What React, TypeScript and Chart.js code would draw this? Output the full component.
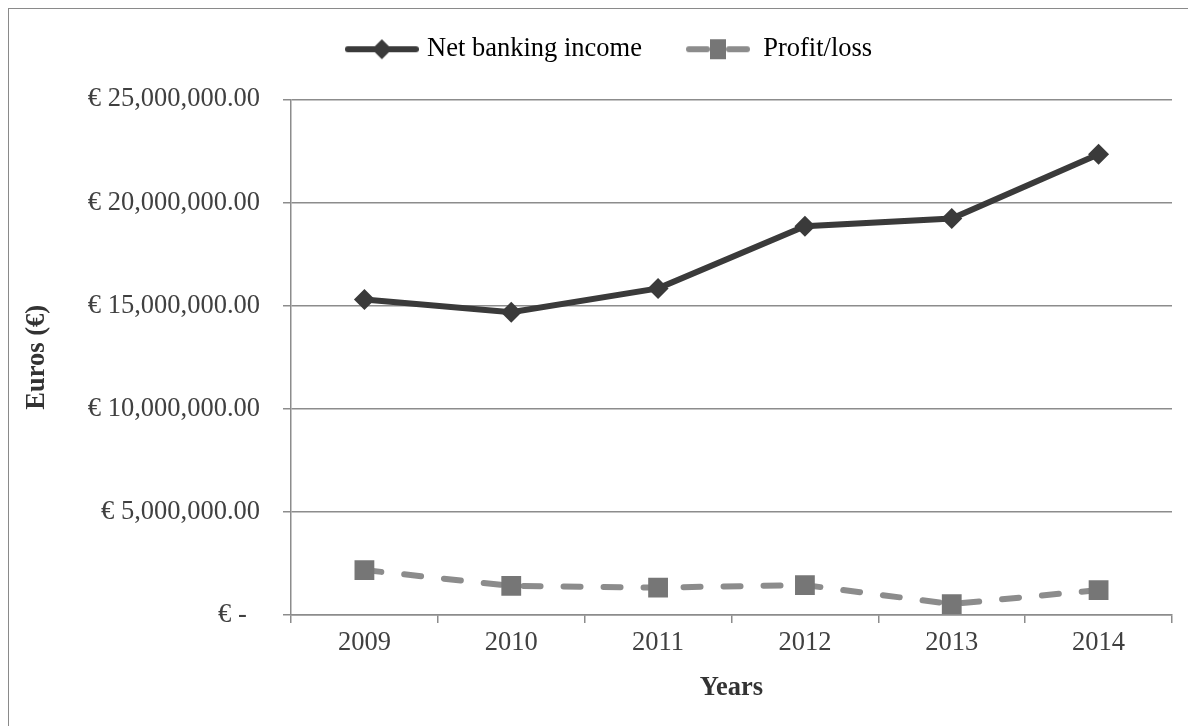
import React, { useEffect, useRef } from 'react';
import { Chart, registerables } from 'chart.js';

Chart.register(...registerables);

// ---- data ----
const years = ['2009', '2010', '2011', '2012', '2013', '2014'];
const netBankingIncome = [15300000, 14680000, 15840000, 18850000, 19230000, 22340000];
const profitLoss = [2180000, 1410000, 1330000, 1450000, 530000, 1210000];
const seriesNames = ['Net banking income', 'Profit/loss'];
const yMin = 0;
const yMax = 25000000;
const yStep = 5000000;
const xTitle = 'Years';
const yTitle = 'Euros (€)';

const FONT = '"Liberation Serif", "Times New Roman", serif';
const FS = 26.5;
const DARK = '#3a3a3a';
const DASH = '#8c8c8c';
const SQUARE = '#767676';
const GRID = '#8c8c8c';

function makeLegendImage(kind: number): HTMLCanvasElement {
  const c = document.createElement('canvas');
  const w = kind === 0 ? 74 : 66;
  const h = 26;
  c.width = w;
  c.height = h;
  const ctx = c.getContext('2d')!;
  const cy = h / 2;
  ctx.lineCap = 'round';
  if (kind === 0) {
    ctx.lineWidth = 6;
    ctx.strokeStyle = DARK;
    ctx.beginPath();
    ctx.moveTo(3, cy);
    ctx.lineTo(w - 3, cy);
    ctx.stroke();
    const cx = w / 2;
    const r = 10;
    ctx.fillStyle = DARK;
    ctx.beginPath();
    ctx.moveTo(cx - r, cy);
    ctx.lineTo(cx, cy - r);
    ctx.lineTo(cx + r, cy);
    ctx.lineTo(cx, cy + r);
    ctx.closePath();
    ctx.fill();
  } else {
    ctx.lineWidth = 6;
    ctx.strokeStyle = DASH;
    ctx.beginPath();
    ctx.moveTo(4, cy);
    ctx.lineTo(22, cy);
    ctx.moveTo(44, cy);
    ctx.lineTo(w - 4, cy);
    ctx.stroke();
    ctx.fillStyle = SQUARE;
    ctx.fillRect(w / 2 - 8, cy - 10, 16, 20);
  }
  return c;
}

const legendSpacing = {
  id: 'legendSpacing',
  beforeInit(chart: any) {
    const legend = chart.legend;
    if (!legend) return;
    const origFit = legend.fit;
    legend.fit = function () {
      origFit.call(this);
      this.height += 27;
    };
  },
  afterLayout(chart: any) {
    if (chart.legend) chart.legend.left += 41;
  },
};

function formatEuro(v: number): string {
  if (v === 0) return '€ -  ';
  return '€ ' + v.toLocaleString('en-US', { minimumFractionDigits: 2, maximumFractionDigits: 2 });
}

export default function App() {
  const ref = useRef<HTMLCanvasElement>(null);

  useEffect(() => {
    if (!ref.current) return;
    const imgs = [makeLegendImage(0), makeLegendImage(1)];
    const chart = new Chart(ref.current, {
      type: 'line',
      data: {
        labels: years,
        datasets: [
          {
            label: seriesNames[0],
            data: netBankingIncome,
            borderColor: DARK,
            backgroundColor: DARK,
            borderWidth: 6,
            tension: 0,
            pointStyle: 'rectRot',
            pointRadius: 10.5,
            pointHoverRadius: 10.5,
            pointBackgroundColor: DARK,
            pointBorderColor: DARK,
            pointBorderWidth: 0,
          },
          {
            label: seriesNames[1],
            data: profitLoss,
            borderColor: DASH,
            backgroundColor: SQUARE,
            borderWidth: 6,
            borderDash: [17, 23],
            borderCapStyle: 'round',
            tension: 0,
            pointStyle: 'rect',
            pointRadius: 14,
            pointHoverRadius: 14,
            pointBackgroundColor: SQUARE,
            pointBorderColor: SQUARE,
            pointBorderWidth: 0,
          },
        ],
      },
      options: {
        animation: false,
        responsive: true,
        maintainAspectRatio: false,
        layout: { padding: { top: -17, left: 0, right: 38, bottom: 0 } },
        plugins: {
          tooltip: { enabled: false },
          legend: {
            position: 'top',
            labels: {
              usePointStyle: true,
              pointStyleWidth: 64,
              padding: 44,
              color: '#333333',
              font: { family: FONT, size: FS },
              generateLabels: (ch: any) =>
                ch.data.datasets.map((ds: any, i: number) => ({
                  text: ds.label,
                  pointStyle: imgs[i],
                  fillStyle: 'transparent',
                  strokeStyle: 'transparent',
                  lineWidth: 0,
                  hidden: false,
                  datasetIndex: i,
                })),
            },
          },
        },
        scales: {
          x: {
            type: 'category',
            offset: true,
            grid: {
              display: true,
              offset: true,
              drawOnChartArea: false,
              drawTicks: true,
              tickLength: 8,
              color: GRID,
              lineWidth: 1.5,
            },
            border: { display: true, color: GRID, width: 1.5 },
            ticks: {
              color: '#404040',
              padding: 4,
              font: { family: FONT, size: FS },
              maxRotation: 0,
            },
            title: {
              display: true,
              text: xTitle,
              color: '#333333',
              font: { family: FONT, size: FS, weight: 'bold' },
              padding: { top: 4, bottom: 22 },
            },
            afterFit: (s: any) => {
              s.height = 111;
            },
          },
          y: {
            min: yMin,
            max: yMax,
            grid: {
              color: GRID,
              lineWidth: 1.5,
              drawTicks: true,
              tickLength: 8,
            },
            border: { display: true, color: GRID, width: 1.5 },
            ticks: {
              stepSize: yStep,
              padding: 23,
              color: '#404040',
              font: { family: FONT, size: FS },
              callback: (v: any) => formatEuro(Number(v)),
            },
            title: {
              display: true,
              text: yTitle,
              color: '#333333',
              font: { family: FONT, size: FS, weight: 'bold' },
              padding: { top: 12, bottom: 0 },
            },
            afterFit: (s: any) => {
              s.width = 282;
            },
          },
        },
      },
      plugins: [legendSpacing],
    } as any);
    return () => chart.destroy();
  }, []);

  return (
    <div
      style={{
        position: 'relative',
        width: 1187,
        height: 717,
        overflow: 'hidden',
        borderLeft: '1px solid #8a8a8a',
        borderTop: '1px solid #8a8a8a',
        background: '#ffffff',
      }}
    >
      <div style={{ position: 'relative', width: 1201, height: 717 }}>
        <canvas ref={ref} />
      </div>
    </div>
  );
}
